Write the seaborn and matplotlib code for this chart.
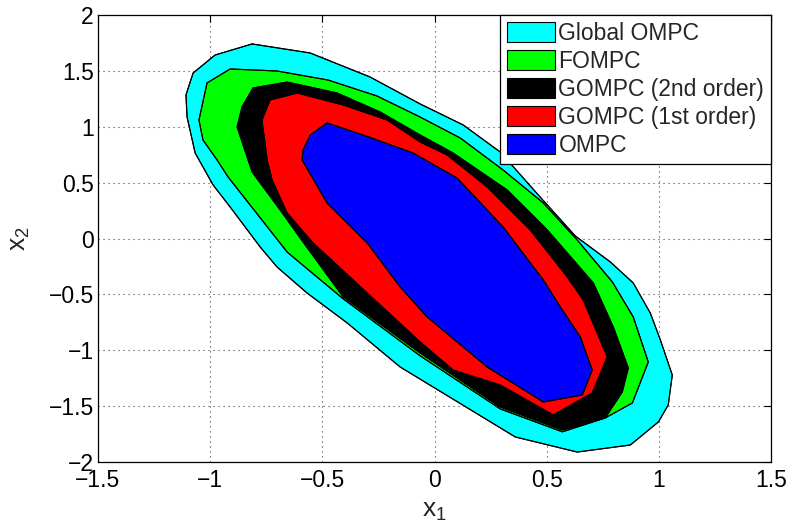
import matplotlib
matplotlib.use("Agg")
import matplotlib.pyplot as plt
import seaborn as sns
import pandas as pd

# ---- data (region boundaries, x1 / x2 vertices) ----
labels = ["Global OMPC", "FOMPC", "GOMPC (2nd order)", "GOMPC (1st order)", "OMPC"]
colors = ["#00FFFF", "#00FF00", "#000000", "#FF0000", "#0000FF"]

global_x = [-0.813, -0.554, -0.287, -0.064, 0.128, 0.293, 0.471, 0.628, 0.784, 0.886,
            0.962, 1.007, 1.060, 1.042, 0.998, 0.873, 0.636, 0.360, -0.153, -0.389,
            -0.568, -0.702, -0.777, -0.911, -0.987, -1.067, -1.103, -1.108, -1.076, -0.978]
global_y = [1.741, 1.660, 1.445, 1.204, 1.016, 0.774, 0.371, 0.022, -0.210, -0.398,
            -0.667, -0.908, -1.222, -1.490, -1.642, -1.848, -1.911, -1.776, -1.150, -0.756,
            -0.488, -0.255, -0.076, 0.282, 0.479, 0.765, 1.087, 1.284, 1.481, 1.642]

fompc_x = [-1.014, -0.911, -0.702, -0.474, -0.256, -0.064, 0.115, 0.306, 0.485, 0.636,
           0.793, 0.886, 0.953, 0.882, 0.761, 0.570, 0.293, -0.064, -0.407, -0.599,
           -0.657, -0.920, -0.969, -1.032, -1.050]
fompc_y = [1.392, 1.517, 1.499, 1.418, 1.275, 1.087, 0.899, 0.613, 0.318, -0.013,
           -0.389, -0.702, -1.105, -1.472, -1.606, -1.730, -1.525, -1.050, -0.540, -0.219,
           -0.121, 0.550, 0.702, 0.881, 1.060]

gompc2_x = [-0.858, -0.809, -0.657, -0.434, -0.242, -0.064, 0.083, 0.324, 0.503, 0.708,
            0.797, 0.864, 0.837, 0.761, 0.570, 0.293, -0.064, -0.407, -0.586, -0.688,
            -0.813, -0.880]
gompc2_y = [1.177, 1.347, 1.400, 1.302, 1.132, 0.926, 0.765, 0.434, 0.076, -0.398,
            -0.792, -1.159, -1.374, -1.606, -1.714, -1.508, -1.025, -0.523, -0.031, 0.255,
            0.595, 0.998]

gompc1_x = [-0.769, -0.733, -0.612, -0.407, -0.211, -0.064, 0.057, 0.235, 0.427, 0.592,
            0.663, 0.770, 0.703, 0.529, 0.293, 0.083, -0.064, -0.300, -0.541, -0.657,
            -0.724, -0.746]
gompc1_y = [1.060, 1.239, 1.302, 1.195, 1.060, 0.864, 0.747, 0.461, 0.076, -0.345,
            -0.550, -1.060, -1.383, -1.579, -1.311, -1.177, -0.926, -0.488, -0.040, 0.228,
            0.523, 0.702]

ompc_x = [-0.479, -0.318, -0.095, 0.101, 0.306, 0.485, 0.561, 0.650, 0.703, 0.659,
          0.485, 0.235, -0.033, -0.153, -0.300, -0.479, -0.590, -0.586, -0.554]
ompc_y = [1.034, 0.926, 0.765, 0.541, 0.103, -0.371, -0.613, -0.881, -1.177, -1.400,
          -1.463, -1.150, -0.702, -0.434, -0.040, 0.318, 0.702, 0.792, 0.926]

xticks = [-1.5, -1, -0.5, 0, 0.5, 1, 1.5]
yticks = [-2, -1.5, -1, -0.5, 0, 0.5, 1, 1.5, 2]
xtick_labels = ["\u22121.5", "\u22121", "\u22120.5", "0", "0.5", "1", "1.5"]
ytick_labels = ["\u22122", "\u22121.5", "\u22121", "\u22120.5", "0", "0.5", "1", "1.5", "2"]

regions = [(global_x, global_y), (fompc_x, fompc_y), (gompc2_x, gompc2_y),
           (gompc1_x, gompc1_y), (ompc_x, ompc_y)]

# ---- style ----
sns.set_theme(style="white")
plt.rcParams["font.family"] = ["Liberation Sans", "DejaVu Sans"]
plt.rcParams["mathtext.fontset"] = "custom"
plt.rcParams["mathtext.rm"] = "Liberation Sans"

fig = plt.figure(figsize=(7.88, 5.28), dpi=100)
ax = fig.add_axes([98 / 788, (528 - 462) / 528, (771 - 98) / 788, (462 - 15) / 528])

for (xs, ys), lab, col in zip(regions, labels, colors):
    ax.fill(xs, ys, facecolor=col, edgecolor="black", linewidth=0.8, label=lab, zorder=2)
    df = pd.DataFrame({"x": xs + xs[:1], "y": ys + ys[:1], "o": range(len(xs) + 1)})
    sns.lineplot(data=df, x="x", y="y", sort=False, color="black", linewidth=0.8,
                 ax=ax, zorder=3, legend=False, estimator=None)

ax.set_xlim(-1.5, 1.5)
ax.set_ylim(-2, 2)
ax.set_xticks(xticks)
ax.set_xticklabels(xtick_labels)
ax.set_yticks(yticks)
ax.set_yticklabels(ytick_labels)
ax.tick_params(direction="in", top=True, right=True, length=5, width=0.8,
               labelsize=16.5, colors="black")
ax.tick_params(axis="x", pad=5)
ax.tick_params(axis="y", pad=3)
ax.grid(True, linestyle=(0, (1, 3.5)), color="#404040", linewidth=0.8, zorder=0)
ax.set_axisbelow(True)
for s in ax.spines.values():
    s.set_color("black")
    s.set_linewidth(0.9)

ax.set_xlabel(r"$\mathregular{x_1}$", fontsize=19, labelpad=5)
ax.set_ylabel(r"$\mathregular{x_2}$", fontsize=19, labelpad=12)

leg = ax.legend(loc="upper right", borderaxespad=0, fontsize=16.5, frameon=True,
                fancybox=False, edgecolor="black", framealpha=1,
                handlelength=2.1, handleheight=0.95, labelspacing=0.22,
                handletextpad=0.15, borderpad=0.3)
leg.get_frame().set_linewidth(0.9)

fig.savefig("out.png", dpi=100)
